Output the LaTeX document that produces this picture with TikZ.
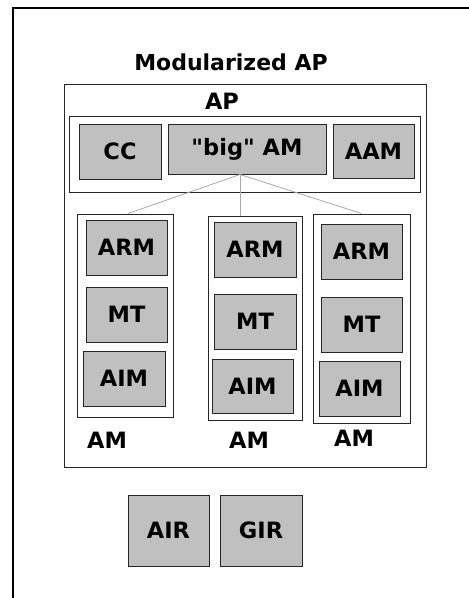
\documentclass[tikz,border=0pt]{standalone}
\usepackage{fontspec}
\setmainfont{DejaVu Sans}[Ligatures=TeXOff]
\usepackage{tikz}
\usetikzlibrary{arrows.meta, positioning, calc}
\definecolor{boxgray}{RGB}{192,192,192}
\definecolor{linkgray}{RGB}{170,170,170}

\begin{document}
\begin{tikzpicture}[x=1pt, y=-1pt,
    modbox/.style={draw=black!85, line width=1pt, fill=boxgray, inner sep=0pt,
                   font=\fontsize{22.5}{26}\selectfont\bfseries},
    frame/.style={draw=black!85, line width=1pt, fill=white, inner sep=0pt},
    tag/.style={font=\fontsize{22.5}{26}\selectfont\bfseries, inner sep=0pt},
    link/.style={draw=linkgray, line width=0.8pt}]
        \useasboundingbox (0,0) rectangle (469,598);
        % Outer frame (top and left edge only)
        \draw[line width=2.6pt] (469,8) -- (13,8) -- (13,598);

        % Title
        \node[font=\fontsize{22}{25}\selectfont\bfseries, inner sep=0pt] (title) at (231,62) {Modularized AP};

        % AP section (background box)
        \node[frame, minimum width=362pt, minimum height=383pt] (ap) at (245,275.5) {};
        \node[tag] (aplabel) at (222,101) {AP};

        % Top row
        \node[frame, minimum width=351pt, minimum height=76pt] (row) at (244.5,154) {};
        \node[modbox, minimum width=82pt, minimum height=55pt] (cc) at (120,151.5) {CC};
        \node[modbox, minimum width=158pt, minimum height=50pt] (bigam) at (247,149) {"big" AM};
        \node[modbox, minimum width=81pt, minimum height=54pt] (aam) at (373.5,151) {AAM};

        % AM columns
        \node[frame, minimum width=96pt, minimum height=203pt] (amL) at (125,315.5) {};
        \node[modbox, minimum width=81pt, minimum height=55pt] (armL) at (126.5,247.5) {ARM};
        \node[modbox, minimum width=81pt, minimum height=55pt] (mtL) at (126.5,314.5) {MT};
        \node[modbox, minimum width=82pt, minimum height=55pt] (aimL) at (124,378.5) {AIM};
        \node[tag] (amLlabel) at (107,440) {AM};

        \node[frame, minimum width=94pt, minimum height=204pt] (amM) at (255,318) {};
        \node[modbox, minimum width=82pt, minimum height=55pt] (armM) at (255,249.5) {ARM};
        \node[modbox, minimum width=82pt, minimum height=55pt] (mtM) at (255,321.5) {MT};
        \node[modbox, minimum width=81pt, minimum height=54pt] (aimM) at (252.5,386) {AIM};
        \node[tag] (amMlabel) at (249,440) {AM};

        \node[frame, minimum width=97pt, minimum height=209pt] (amR) at (361.5,318.5) {};
        \node[modbox, minimum width=81pt, minimum height=55pt] (armR) at (361.5,251.5) {ARM};
        \node[modbox, minimum width=81pt, minimum height=55pt] (mtR) at (361.5,324.5) {MT};
        \node[modbox, minimum width=81pt, minimum height=55pt] (aimR) at (359.5,388.5) {AIM};
        \node[tag] (amRlabel) at (354,438) {AM};

        % Links
        \coordinate (hub) at (240,174.5);
        \draw[link] (hub) -- ($(amL.north)+(3,0)$);
        \draw[link] (hub) -- (hub |- amM.north);
        \draw[link] (hub) -- (amR.north);

        % Registries
        \node[modbox, minimum width=81pt, minimum height=71pt] (air) at (168.5,530.5) {AIR};
        \node[modbox, minimum width=82pt, minimum height=71pt] (gir) at (261,530.5) {GIR};
    \end{tikzpicture}
\end{document}
